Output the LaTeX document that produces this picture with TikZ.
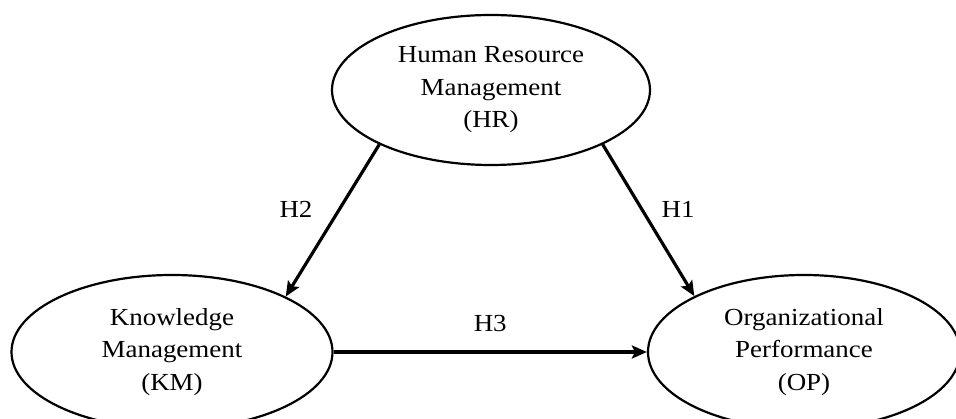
\documentclass[tikz,border=0pt]{standalone}
\usepackage{fontspec}
\setmainfont[FakeStretch=1.1]{Liberation Serif}
\usetikzlibrary{shapes.geometric,arrows.meta}

\begin{document}
\begin{tikzpicture}[x=1pt, y=-1pt,
  main/.style = {draw, ellipse, line width=2.2pt, inner sep=0pt, align=center,
    font=\fontsize{24.5}{32.5}\selectfont},
  link/.style = {line width=3.2pt, -{Stealth[length=15pt, width=13pt, inset=3pt]}},
  lab/.style = {font=\fontsize{24.5}{28}\selectfont, inner sep=0pt}]
\useasboundingbox (0,0) rectangle (956,419);
\clip (0,0) rectangle (956,419);
\node[main, minimum width=318pt, minimum height=150pt] (hr) at (491,90) {Human Resource\\Management\\(HR)};
\node[main, minimum width=321pt, minimum height=154pt] (km) at (172,352) {Knowledge\\Management\\(KM)};
\node[main, minimum width=312pt, minimum height=154pt] (op) at (804,352) {Organizational\\Performance\\(OP)};
\draw[link] (hr.206) -- node[lab, pos=0.43, left=25pt] {H2} (km.26);
\draw[link] (hr.334) -- node[lab, pos=0.43, right=18pt] {H1} (op.153);
\draw[link] (km.east) -- node[lab, above=19pt] {H3} (op.west);
\end{tikzpicture}
\end{document}
